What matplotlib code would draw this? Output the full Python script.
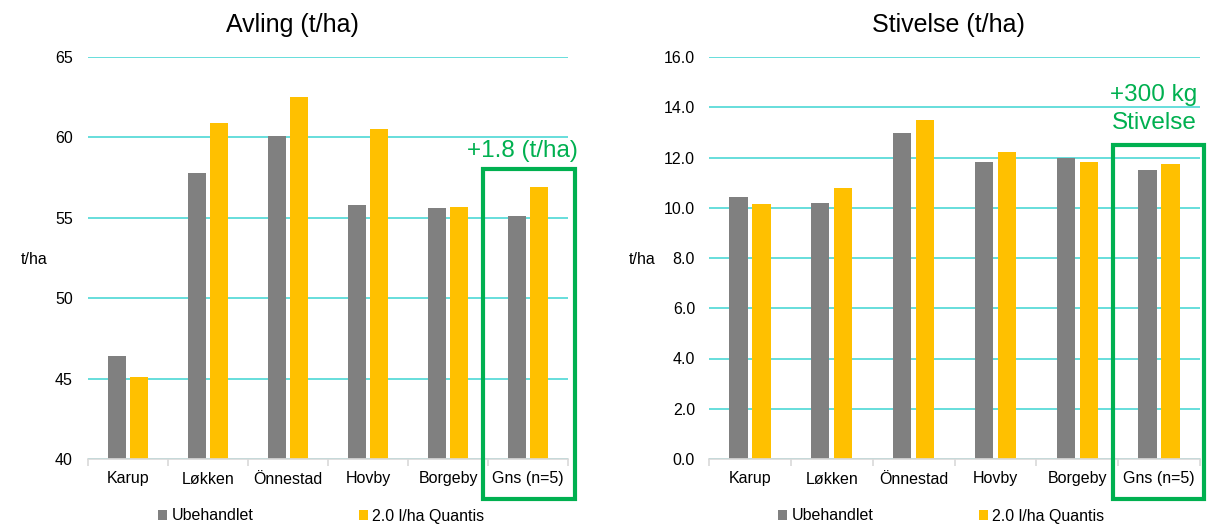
import matplotlib
matplotlib.use("Agg")
import matplotlib.pyplot as plt
import numpy as np
from matplotlib.patches import Rectangle, Patch
from matplotlib.ticker import FormatStrFormatter, MultipleLocator

plt.rcParams['font.family'] = ['Liberation Sans', 'DejaVu Sans']

categories = ["Karup", "Løkken", "Önnestad", "Hovby", "Borgeby", "Gns (n=5)"]
series_names = ["Ubehandlet", "2.0 l/ha Quantis"]

avling_ubeh = [46.4, 57.8, 60.1, 55.8, 55.6, 55.1]
avling_quantis = [45.1, 60.9, 62.5, 60.5, 55.7, 56.9]

stivelse_ubeh = [10.42, 10.17, 12.97, 11.82, 12.0, 11.51]
stivelse_quantis = [10.15, 10.78, 13.49, 12.2, 11.81, 11.75]

GRAY = "#808080"
YELLOW = "#FFC000"
GREEN = "#00B050"
GRID = "#3DD4D2"
AXIS = "#D9D9D9"

W, H = 1216, 531
fig = plt.figure(figsize=(W / 100, H / 100), dpi=100)


def px(x0, y0, x1, y1):
    return [x0 / W, 1 - y1 / H, (x1 - x0) / W, (y1 - y0) / H]


def draw(ax, ubeh, quant, ylim, step, fmt, ypad):
    x = np.arange(len(categories))
    bw = 0.225
    off = 0.14
    ax.bar(x - off, ubeh, bw, color=GRAY, zorder=3)
    ax.bar(x + off, quant, bw, color=YELLOW, zorder=3)
    ax.set_xlim(-0.5, len(categories) - 0.5)
    ax.set_ylim(*ylim)
    ax.yaxis.set_major_locator(MultipleLocator(step))
    if fmt:
        ax.yaxis.set_major_formatter(FormatStrFormatter(fmt))
    ax.grid(axis='y', color=GRID, linewidth=1.1, zorder=0)
    ax.set_axisbelow(True)
    for s in ['top', 'right', 'left']:
        ax.spines[s].set_visible(False)
    ax.spines['bottom'].set_color(AXIS)
    ax.spines['bottom'].set_linewidth(1.2)
    ax.spines['bottom'].set_zorder(4)
    ax.set_xticks(x)
    ax.set_xticklabels(categories, fontsize=11.5)
    ax.set_xticks(np.arange(len(categories) + 1) - 0.5, minor=True)
    ax.tick_params(axis='x', which='major', length=0, pad=9)
    ax.tick_params(axis='x', which='minor', length=5, color=AXIS, width=1.2)
    ax.tick_params(axis='y', length=0, pad=ypad, labelsize=11.5)


ax1 = fig.add_axes(px(88, 57, 568, 459))
draw(ax1, avling_ubeh, avling_quantis, (40, 65), 5, None, 11)
ax2 = fig.add_axes(px(709, 57, 1200, 459))
draw(ax2, stivelse_ubeh, stivelse_quantis, (0, 16), 2, '%.1f', 10)

# titles
fig.text(292 / W, 1 - 25 / H, "Avling (t/ha)", fontsize=18, ha='center', va='center')
fig.text(948 / W, 1 - 25 / H, "Stivelse (t/ha)", fontsize=18, ha='center', va='center')

# y labels
fig.text(34 / W, 1 - 260 / H, "t/ha", fontsize=11.5, ha='center', va='center')
fig.text(642 / W, 1 - 260 / H, "t/ha", fontsize=11.5, ha='center', va='center')

# green highlight boxes
ax1.add_patch(Rectangle((0.823, -0.0995), 1.0146 - 0.823, 0.721 + 0.0995,
                        transform=ax1.transAxes, fill=False, edgecolor=GREEN,
                        linewidth=3, clip_on=False, zorder=6))
ax2.add_patch(Rectangle((0.823, -0.0995), 1.008 - 0.823, 0.781 + 0.0995,
                        transform=ax2.transAxes, fill=False, edgecolor=GREEN,
                        linewidth=3, clip_on=False, zorder=6))

fig.text(522 / W, 1 - 151 / H, "+1.8 (t/ha)", fontsize=17.5, color=GREEN,
         ha='center', va='center')
fig.text(1154 / W, 1 - 95 / H, "+300 kg", fontsize=17.5, color=GREEN,
         ha='center', va='center')
fig.text(1154 / W, 1 - 123 / H, "Stivelse", fontsize=17.5, color=GREEN,
         ha='center', va='center')

# legends
handles = [Patch(facecolor=GRAY, edgecolor='none'), Patch(facecolor=YELLOW, edgecolor='none')]
for ax, xl in ((ax1, 158), (ax2, 778)):
    ax.legend(handles, series_names, loc='center left',
              bbox_to_anchor=(xl / W, 1 - 516 / H), bbox_transform=fig.transFigure,
              ncol=2, frameon=False, fontsize=11.5, handlelength=0.55,
              handleheight=0.55, handletextpad=0.3, columnspacing=6.6,
              borderpad=0, borderaxespad=0)

fig.savefig("out.png", dpi=100)
